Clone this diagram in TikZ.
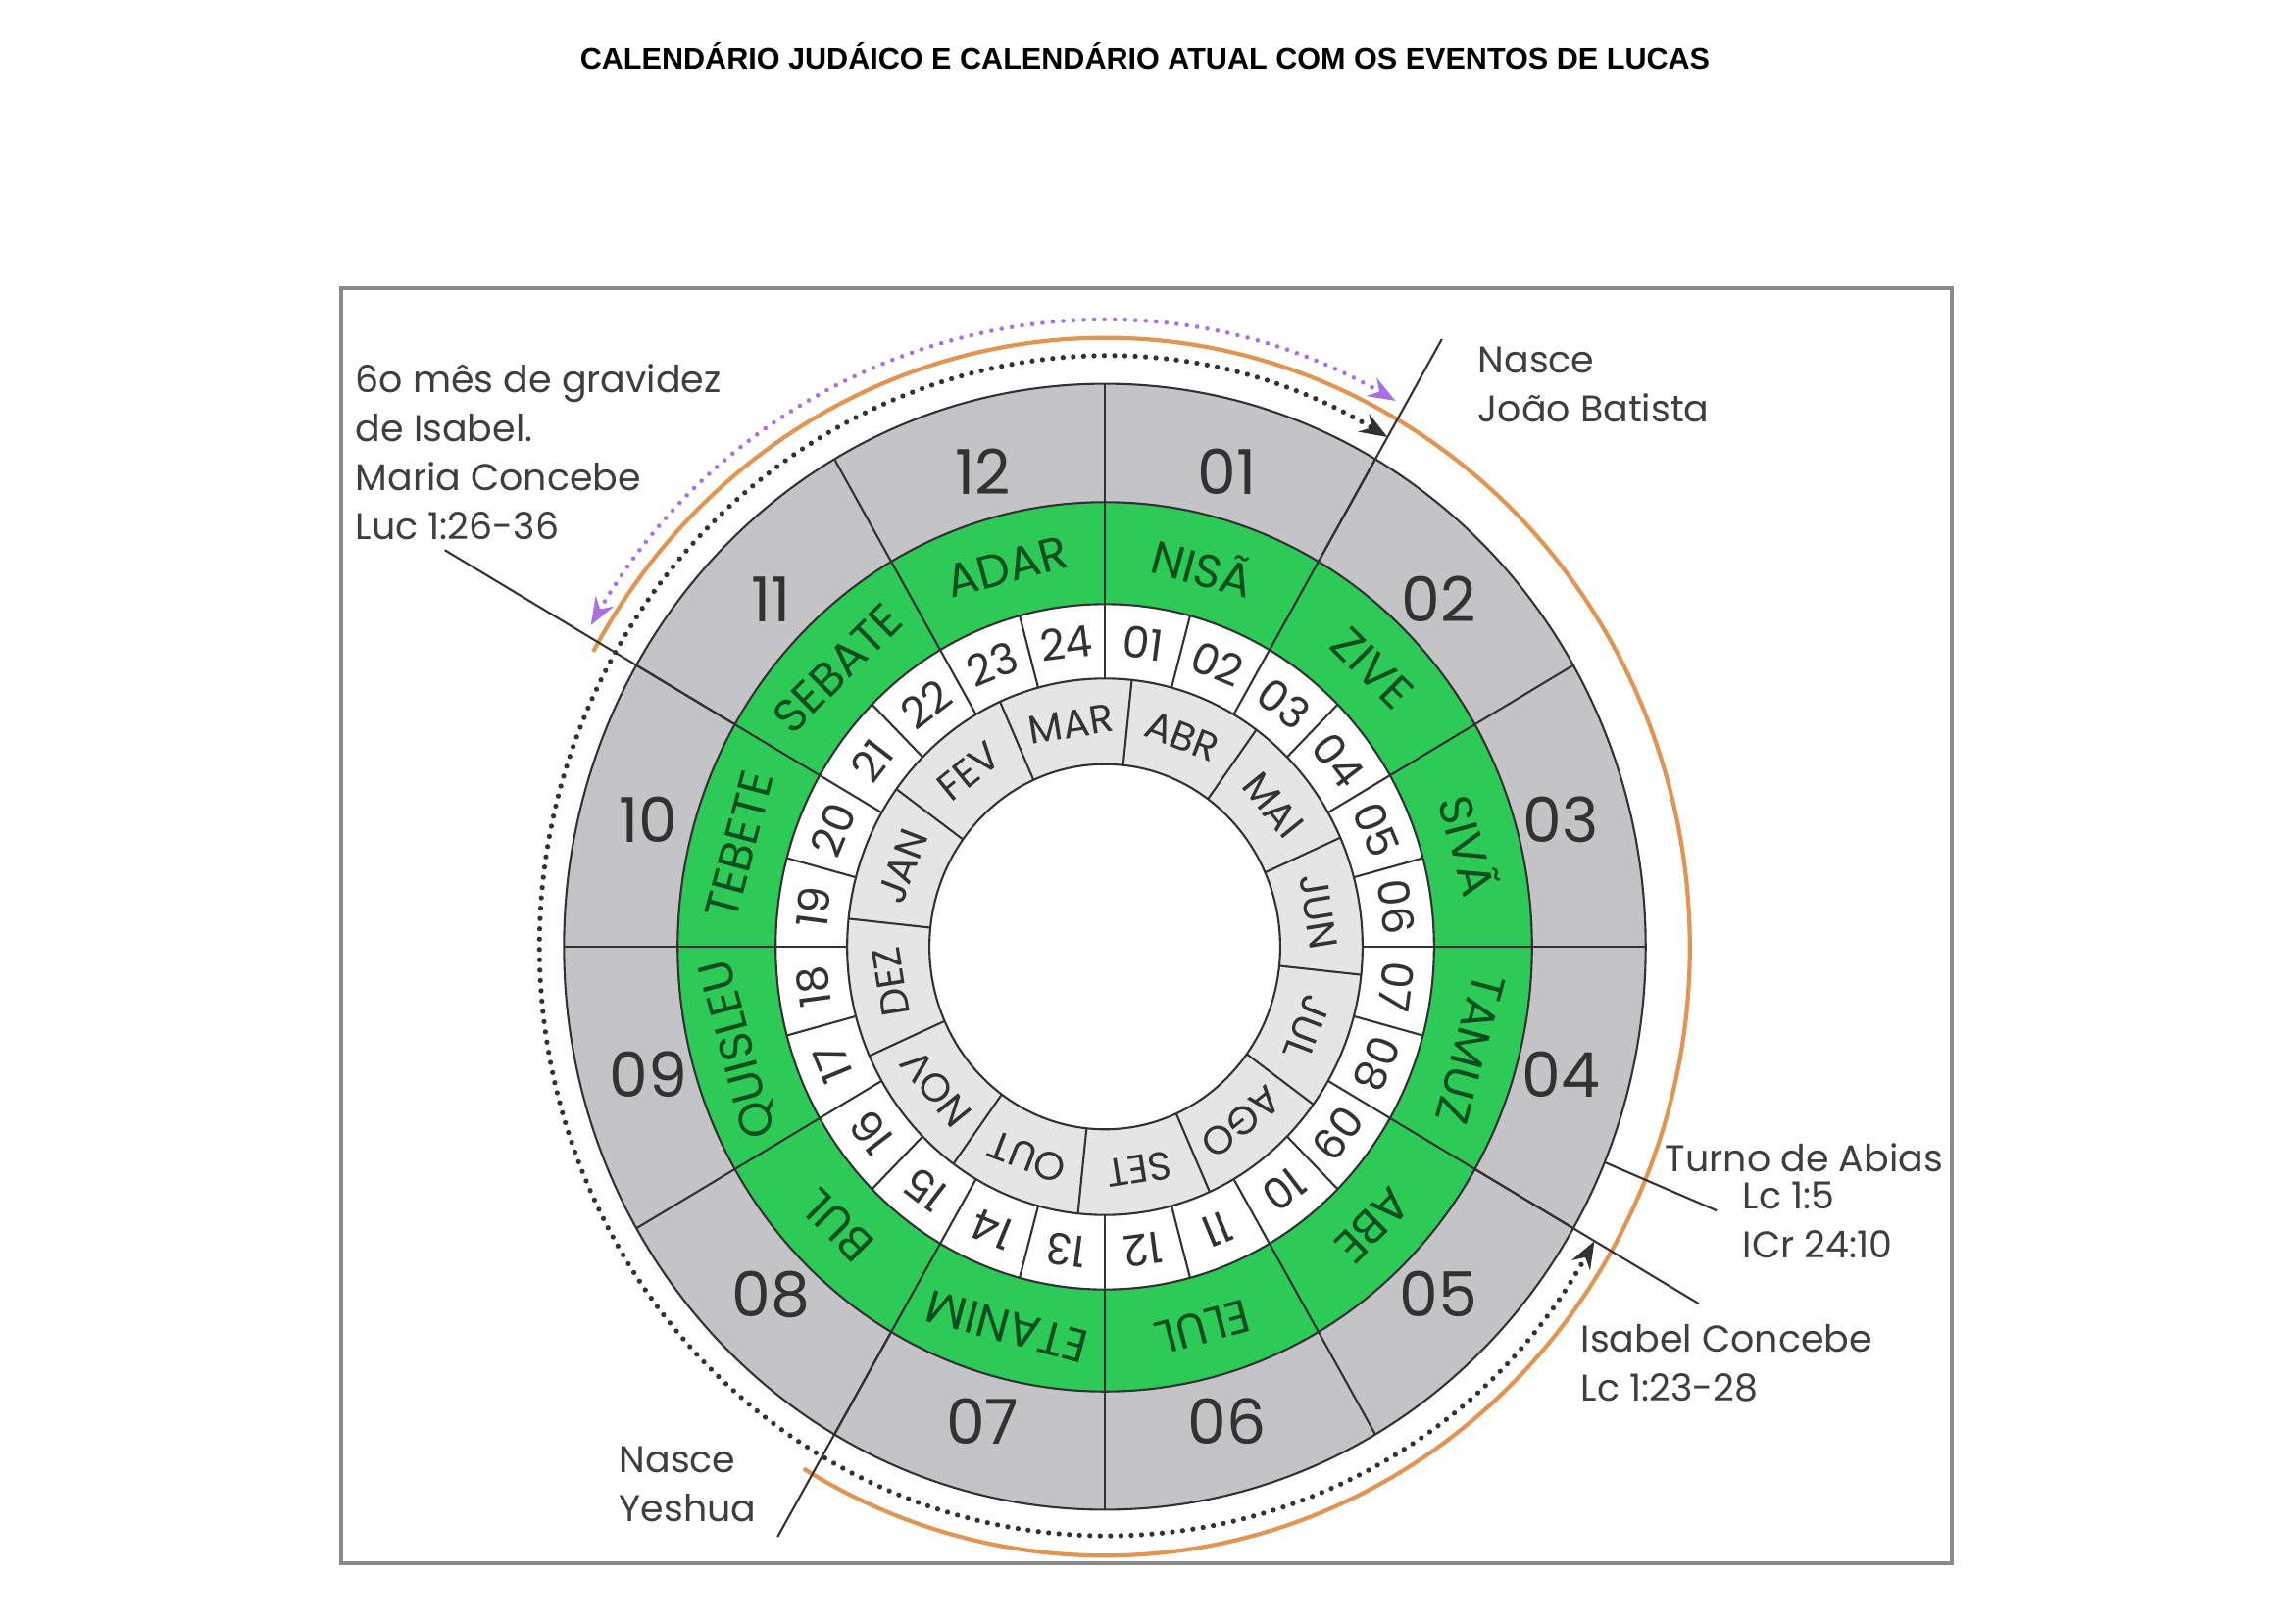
\documentclass[tikz,border=0pt]{standalone}
\usepackage{fontspec}
\setmainfont{Poppins}
\newfontfamily\titlefont{Liberation Sans}
\usetikzlibrary{arrows.meta}
\definecolor{GR}{RGB}{196,196,198}
\definecolor{LGr}{RGB}{229,229,229}
\definecolor{GN}{RGB}{46,202,88}
\definecolor{DGN}{RGB}{12,78,30}
\definecolor{DG}{RGB}{50,50,50}
\definecolor{TX}{RGB}{62,62,62}
\definecolor{OR}{RGB}{224,150,82}
\definecolor{PU}{RGB}{168,112,228}
\definecolor{FR}{RGB}{138,138,138}

\begin{document}
\begin{tikzpicture}[
  ln/.style={draw=DG, line width=0.6pt},
  hebnum/.style={font=\fontsize{18}{18}\selectfont, text=DG},
  hebname/.style={font=\fontsize{13.5}{14}\selectfont, text=DGN},
  daynum/.style={font=\fontsize{12.5}{12.5}\selectfont, text=DG},
  gregname/.style={font=\fontsize{11.5}{11.5}\selectfont, text=DG},
  note/.style={font=\fontsize{10.8}{14.2}\selectfont, text=TX, align=left, inner sep=0pt},
  dots/.style={line width=1.5pt, line cap=round, dash pattern=on 0pt off 3pt}
]
\useasboundingbox (0,0) rectangle (23.39,16.56);
\node[font=\titlefont\bfseries\fontsize{8.7}{10}\selectfont] (title) at (11.68,15.99)
  {CALENDÁRIO JUDÁICO E CALENDÁRIO ATUAL COM OS EVENTOS DE LUCAS};
\draw[FR, line width=1.4pt] (3.48,0.61) rectangle (19.91,13.62);

\begin{scope}[shift={(11.27cm,6.90cm)}, x=0.01cm, y=0.0104cm]
% rings
\fill[GR]  (0,0) circle (552);
\fill[GN]  (0,0) circle (436);
\fill[white] (0,0) circle (336);
\fill[LGr] (0,0) circle (263);
\fill[white] (0,0) circle (179);
\foreach \r in {552,436,336,263,179} \draw[ln] (0,0) circle (\r);
\foreach \a in {0,30,...,330} \draw[ln] (\a:336) -- (\a:552);
\foreach \a in {0,15,...,345} \draw[ln] (\a:263) -- (\a:336);
\foreach \a in {24,54,...,354} \draw[ln] (\a:179) -- (\a:263);

% labels on the rings
\foreach \t [count=\k] in {01,02,03,04,05,06,07,08,09,10,11,12}{
  \pgfmathsetmacro\ang{105-30*\k}
  \node[hebnum] (h\k) at (\ang:482) {\t};}
\foreach \t [count=\k] in {NISÃ,ZIVE,SIVÃ,TAMUZ,ABE,ELUL,ETANIM,BUL,QUISLEU,TEBETE,SEBATE,ADAR}{
  \pgfmathsetmacro\ang{105-30*\k}
  \node[hebname, rotate=\ang-90] (g\k) at (\ang:386) {\t};}
\foreach \t [count=\k] in {01,02,03,04,05,06,07,08,09,10,11,12,13,14,15,16,17,18,19,20,21,22,23,24}{
  \pgfmathsetmacro\ang{97.5-15*\k}
  \node[daynum, rotate=\ang-90] (d\k) at (\ang:300) {\t};}
\foreach \t [count=\k] in {MAR,ABR,MAI,JUN,JUL,AGO,SET,OUT,NOV,DEZ,JAN,FEV}{
  \pgfmathsetmacro\ang{129-30*\k}
  \node[gregname, rotate=\ang-90] (m\k) at (\ang:221) {\t};}

% periods
\draw[OR, line width=1.2pt] (151:597) arc [start angle=151, end angle=-121, radius=597];
\draw[dots, DG, {Stealth[length=8pt,width=6pt]}-{Stealth[length=8pt,width=6pt]}]
  (-30:577) arc [start angle=-30, end angle=-300, radius=577];
\draw[dots, PU, line width=1.3pt, {Stealth[length=8pt,width=6pt]}-{Stealth[length=8pt,width=6pt]}]
  (61:612) arc [start angle=61, end angle=149, radius=612];

% event lines
\coordinate (maA) at (150:436);  \coordinate (maB) at (150:778);
\coordinate (jbA) at (60:436);   \coordinate (jbB) at (60:688);
\coordinate (abA) at (-22.5:552);\coordinate (abB) at (-22.5:676);
\coordinate (isA) at (-30:436);  \coordinate (isB) at (-30:700);
\coordinate (yeA) at (-120:436); \coordinate (yeB) at (-120:668);
\end{scope}

\draw[ln] (maA) -- (maB);
\draw[ln] (jbA) -- (jbB);
\draw[ln] (abA) -- (abB);
\draw[ln] (isA) -- (isB);
\draw[ln] (yeA) -- (yeB);

\node[note, anchor=north west] (maria) at (3.62,12.85)
  {6o mês de gravidez\\de Isabel.\\Maria Concebe\\Luc 1:26-36};
\node[note, anchor=north west] (joao) at (15.07,13.03) {Nasce\\João Batista};
\node[note, anchor=west] (turno) at (16.98,4.75) {Turno de Abias};
\node[note, anchor=north west] (refs) at (17.77,4.51) {Lc 1:5\\ICr 24:10};
\node[note, anchor=north west] (isabel) at (16.12,3.05) {Isabel Concebe\\Lc 1:23-28};
\node[note, anchor=north west] (yeshua) at (6.31,1.81) {Nasce\\Yeshua};
\end{tikzpicture}
\end{document}
